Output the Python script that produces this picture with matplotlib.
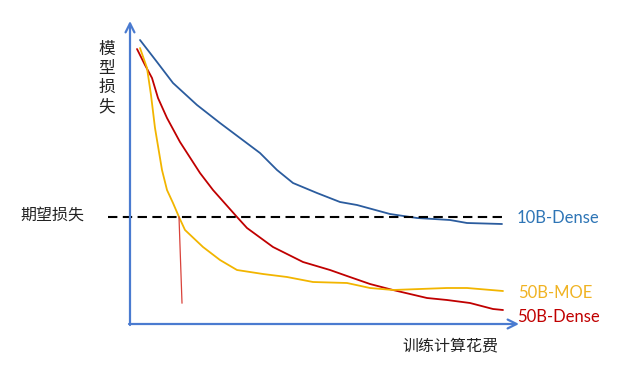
import matplotlib
matplotlib.use("Agg")
import matplotlib.pyplot as plt

# Schematic data (x: training compute, y: model loss)
blue_x = [10, 27, 43, 67, 90, 110, 130, 147, 163, 187, 210, 227, 260, 287, 320, 337, 372]
blue_y = [284, 262, 241, 219, 201, 186, 171, 154, 141, 131, 122, 119, 110, 106, 104, 101, 100]

red_x = [7, 15, 22, 28, 37, 50, 70, 83, 107, 117, 143, 173, 200, 217, 240, 263, 297, 317, 340, 363, 373]
red_y = [275, 259, 246, 226, 206, 182, 151, 134, 107, 96, 77, 62, 54, 48, 40, 34, 26, 24, 21, 15, 14]

yel_x = [10, 17, 21, 25, 32, 37, 43, 49, 55, 73, 90, 107, 133, 157, 183, 217, 240, 263, 317, 337, 373]
yel_y = [276, 256, 229, 196, 154, 134, 121, 107, 94, 77, 64, 54, 50, 47, 42, 41, 36, 34, 36, 36, 33]

target_loss = 107
target_x = [-22, 372]
mark_x = [49, 52]
mark_y = [107, 21]

labels = {"blue": "10B-Dense", "yel": "50B-MOE", "red": "50B-Dense"}
ylabel = "模型损失"
xlabel = "训练计算花费"
target_label = "期望损失"

C_AXIS = "#4A7BD0"
C_BLUE = "#2B5C9E"
C_BLUE_T = "#2E75B6"
C_RED = "#C00000"
C_YEL = "#F2B500"
C_YEL_T = "#F0B323"

fig = plt.figure(figsize=(6.22, 3.68), dpi=100)
ax = fig.add_axes([0, 0, 1, 1])
ax.set_xlim(-130, 492)
ax.set_ylim(-44, 324)
ax.axis("off")

# axes arrows
ax.annotate("", xy=(0, 303), xytext=(0, -1),
            arrowprops=dict(arrowstyle="->", color=C_AXIS, lw=1.6, mutation_scale=16, shrinkA=0, shrinkB=0))
ax.annotate("", xy=(389, 0), xytext=(-1, 0),
            arrowprops=dict(arrowstyle="->", color=C_AXIS, lw=1.6, mutation_scale=16, shrinkA=0, shrinkB=0))

ax.plot(blue_x, blue_y, color=C_BLUE, lw=1.3, solid_capstyle="round", solid_joinstyle="round")
ax.plot(red_x, red_y, color=C_RED, lw=1.3, solid_capstyle="round", solid_joinstyle="round")
ax.plot(yel_x, yel_y, color=C_YEL, lw=1.3, solid_capstyle="round", solid_joinstyle="round")
ax.plot(target_x, [target_loss, target_loss], color="black", lw=1.5, dashes=(4.5, 2.6))
ax.plot(mark_x, mark_y, color="#D9423A", lw=0.9)

cjk = ["Noto Sans CJK SC", "DejaVu Sans"]
ax.text(-23, 246, "\n".join(ylabel), fontsize=12, family=cjk, ha="center", va="center",
        linespacing=1.15, color="#222222")
ax.text(-110, 109, target_label, fontsize=11.5, family=cjk, ha="left", va="center", color="#222222")
ax.text(272, -22, xlabel, fontsize=11.5, family=cjk, ha="left", va="center", color="#222222")

lat = ["Lato", "DejaVu Sans"]
ax.text(387, 106, labels["blue"], fontsize=12, family=lat, ha="left", va="center", color=C_BLUE_T)
ax.text(388, 31, labels["yel"], fontsize=12, family=lat, ha="left", va="center", color=C_YEL_T)
ax.text(387, 7, labels["red"], fontsize=12, family=lat, ha="left", va="center", color=C_RED)

fig.savefig("out.png", dpi=100)
